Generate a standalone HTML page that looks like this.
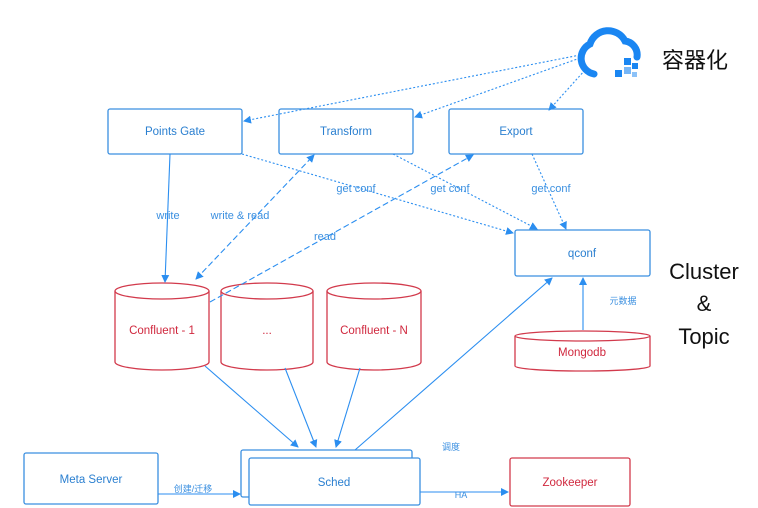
<!DOCTYPE html>
<html><head><meta charset="utf-8"><style>
body{margin:0;background:#fff;}
svg{display:block;font-family:"Liberation Sans","Noto Sans CJK SC",sans-serif;}
</style></head><body>
<svg width="758" height="508" viewBox="0 0 758 508">
<defs>
<marker id="a" markerWidth="8" markerHeight="8" refX="7" refY="4" orient="auto" markerUnits="userSpaceOnUse"><path d="M0,0 L8,4 L0,8 z" fill="#2b8ef0"/></marker>
<marker id="s" markerWidth="8" markerHeight="8" refX="1" refY="4" orient="auto" markerUnits="userSpaceOnUse"><path d="M8,0 L0,4 L8,8 z" fill="#2b8ef0"/></marker>
</defs>
<g fill="none" stroke="#3a8fe0" stroke-width="1.3">
<rect x="108" y="109" width="134" height="45" rx="2"/>
<rect x="279" y="109" width="134" height="45" rx="2"/>
<rect x="449" y="109" width="134" height="45" rx="2"/>
<rect x="515" y="230" width="135" height="46" rx="2"/>
<rect x="24" y="453" width="134" height="51" rx="2"/>
<rect x="241" y="450" width="171" height="47" rx="2"/>
<rect x="249" y="458" width="171" height="47" rx="2" fill="#fff"/>
</g>
<rect x="510" y="458" width="120" height="48" rx="2" fill="none" stroke="#d23a4c" stroke-width="1.3"/>
<g fill="#fff" stroke="#d23a4c" stroke-width="1.3">
<path d="M115,291 v71 a47,8 0 0 0 94,0 v-71"/><ellipse cx="162" cy="291" rx="47" ry="8"/>
<path d="M221,291 v71 a46,8 0 0 0 92,0 v-71"/><ellipse cx="267" cy="291" rx="46" ry="8"/>
<path d="M327,291 v71 a47,8 0 0 0 94,0 v-71"/><ellipse cx="374" cy="291" rx="47" ry="8"/>
<path d="M515,336 v30 a67,5 0 0 0 135,0 v-30"/><ellipse cx="582.5" cy="336" rx="67.5" ry="5"/>
</g>
<g stroke="#2b8ef0" stroke-width="1.1" fill="none">
<g stroke-dasharray="2,2">
<path d="M580,55 L244,121" marker-end="url(#a)"/>
<path d="M580,58 L415,117" marker-end="url(#a)"/>
<path d="M585,70 L549,110" marker-end="url(#a)"/>
<path d="M242,154 L513,233" marker-end="url(#a)"/>
<path d="M393,154 L537,229" marker-end="url(#a)"/>
<path d="M532,154 L566,229" marker-end="url(#a)"/>
</g>
<g stroke-dasharray="6,3">
<path d="M196,279 L314,155" marker-end="url(#a)" marker-start="url(#s)"/>
<path d="M210,302 L473,155" marker-end="url(#a)"/>
</g>
<path d="M170,154 L165,282" marker-end="url(#a)"/>
<path d="M205,366 L298,447" marker-end="url(#a)"/>
<path d="M285,368 L316,447" marker-end="url(#a)"/>
<path d="M360,368 L336,447" marker-end="url(#a)"/>
<path d="M355,450 L552,278" marker-end="url(#a)"/>
<path d="M583,330 L583,278" marker-end="url(#a)"/>
<path d="M158,494 L240,494" marker-end="url(#a)"/>
<path d="M420,492 L508,492" marker-end="url(#a)"/>
</g>
<!-- cloud -->
<path d="M594,74 a16,16 0 0 1 -4,-30 a19,19 0 0 1 35,-3 a14,14 0 0 1 12,16" fill="none" stroke="#1a86f2" stroke-width="7" stroke-linecap="round"/>
<g fill="#1a86f2"><rect x="624" y="58" width="7" height="7"/><rect x="632" y="63" width="6" height="6"/><rect x="624" y="67" width="7" height="7" opacity=".6"/><rect x="615" y="70" width="7" height="7"/><rect x="632" y="72" width="5" height="5" opacity=".5"/></g>
<g fill="#2a7fd0" font-size="11.5" text-anchor="middle">
<text x="175" y="135">Points Gate</text>
<text x="346" y="135">Transform</text>
<text x="516" y="135">Export</text>
<text x="582" y="257">qconf</text>
<text x="91" y="483">Meta Server</text>
<text x="334" y="486">Sched</text>
</g>
<g fill="#d0283e" font-size="11.5" text-anchor="middle">
<text x="162" y="334">Confluent - 1</text>
<text x="267" y="334">...</text>
<text x="374" y="334">Confluent - N</text>
<text x="582" y="356">Mongodb</text>
<text x="570" y="486">Zookeeper</text>
</g>
<g fill="#3a8fe0" font-size="11" text-anchor="middle">
<text x="168" y="219">write</text>
<text x="240" y="219">write &amp; read</text>
<text x="325" y="240">read</text>
<text x="356" y="192">get conf</text>
<text x="450" y="192">get conf</text>
<text x="551" y="192">get conf</text>
<text x="623" y="304" font-size="9">元数据</text>
<text x="451" y="450" font-size="9">调度</text>
<text x="193" y="492" font-size="9">创建/迁移</text>
<text x="461" y="498" font-size="9">HA</text>
</g>
<g fill="#111" font-size="22" text-anchor="middle">
<text x="695" y="68">容器化</text>
<text x="704" y="279">Cluster</text>
<text x="704" y="311">&amp;</text>
<text x="704" y="344">Topic</text>
</g>
</svg>
</body></html>
